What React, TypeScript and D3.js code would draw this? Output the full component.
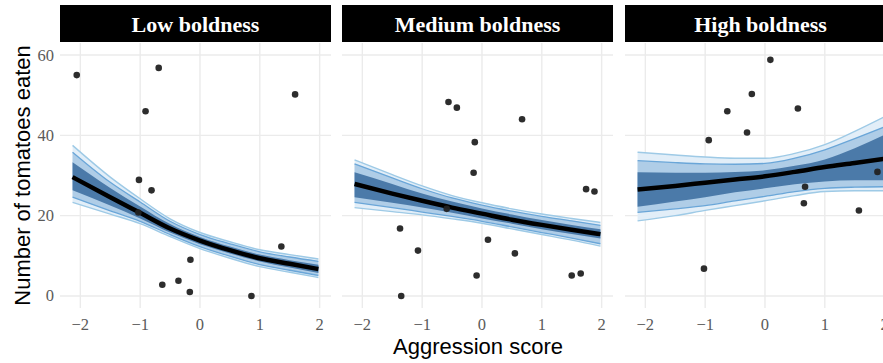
import React from "react";
import * as d3 from "d3";

const panels = ["Low boldness", "Medium boldness", "High boldness"];
const xTicks = [-2, -1, 0, 1, 2];
const yTicks = [0, 20, 40, 60];

// fitted-curve grid (x) shared by the panels
const curveX = [-2.13, -1.5, -1, -0.5, 0, 0.5, 1, 1.5, 1.98];

// Low boldness
const lowX = [-2.06, -0.69, -0.91, 1.59, -1.02, -0.81, -1.03, 1.36, -0.16, -0.63, -0.36, -0.17, 0.86];
const lowY = [55, 56.8, 46, 50.2, 28.9, 26.3, 20.8, 12.3, 9, 2.8, 3.8, 1, 0];
const lowMedian = [29.6, 24.6, 20.7, 16.8, 13.8, 11.4, 9.4, 8.0, 6.7];
const lowOuterHi = [37.5, 29.6, 24.2, 19.2, 15.8, 13.5, 11.5, 10.3, 9.2];
const lowOuterLo = [23.3, 20.4, 18.0, 14.8, 11.8, 9.4, 7.3, 5.9, 4.6];
const lowMidHi = [35.8, 28.3, 23.4, 18.6, 15.3, 13.0, 11.0, 9.7, 8.6];
const lowMidLo = [24.6, 21.2, 18.6, 15.3, 12.3, 9.9, 7.8, 6.4, 5.1];
const lowDarkHi = [33.3, 26.9, 22.3, 17.9, 14.7, 12.3, 10.3, 8.9, 7.8];
const lowDarkLo = [26.3, 22.5, 19.3, 15.8, 12.9, 10.6, 8.6, 7.1, 5.7];

// Medium boldness
const medX = [-0.56, -0.42, 0.67, -0.12, -0.14, 1.74, 1.88, -0.59, -1.37, -1.07, 0.1, 0.55, -0.09, 1.5, 1.65, -1.35];
const medY = [48.3, 46.9, 44, 38.3, 30.7, 26.6, 26, 21.7, 16.8, 11.3, 14, 10.6, 5.1, 5.1, 5.6, 0];
const medMedian = [27.9, 25.5, 23.7, 22.0, 20.5, 19.0, 17.7, 16.5, 15.4];
const medOuterHi = [33.9, 30.2, 27.4, 25.0, 23.2, 21.7, 20.4, 19.3, 18.3];
const medOuterLo = [22.0, 21.0, 20.2, 19.2, 18.1, 16.7, 15.3, 13.9, 12.4];
const medMidHi = [32.9, 29.4, 26.7, 24.4, 22.6, 21.1, 19.8, 18.7, 17.6];
const medMidLo = [23.3, 22.0, 20.9, 19.8, 18.6, 17.2, 15.8, 14.4, 13.0];
const medDarkHi = [30.8, 27.9, 25.5, 23.5, 21.8, 20.3, 18.9, 17.7, 16.6];
const medDarkLo = [24.6, 23.2, 22.0, 20.7, 19.3, 18.0, 16.6, 15.4, 14.3];

// High boldness
const highX = [0.09, -0.22, -0.63, 0.55, -0.3, -0.94, 1.88, 0.67, 0.65, 1.57, -1.02];
const highY = [58.8, 50.3, 46, 46.7, 40.7, 38.8, 30.9, 27.2, 23.1, 21.3, 6.8];
const highMedian = [26.5, 27.4, 28.2, 29.0, 29.8, 30.9, 32.1, 33.1, 34.1];
const highOuterHi = [35.8, 35.1, 34.6, 34.3, 34.3, 35.5, 37.7, 41.0, 44.5];
const highOuterLo = [18.7, 20.0, 21.3, 22.5, 23.7, 25.0, 26.0, 26.2, 26.2];
const highMidHi = [33.7, 33.2, 32.9, 32.8, 33.0, 34.3, 36.4, 39.2, 42.0];
const highMidLo = [20.8, 21.7, 22.5, 23.7, 24.8, 26.0, 26.8, 27.1, 27.2];
const highDarkHi = [30.8, 30.7, 30.7, 30.9, 31.3, 32.4, 34.0, 36.8, 40.0];
const highDarkLo = [22.2, 23.5, 24.6, 25.8, 26.8, 27.8, 28.5, 28.8, 28.8];

type PanelData = {
  px: number[]; py: number[]; median: number[];
  oHi: number[]; oLo: number[]; mHi: number[]; mLo: number[]; dHi: number[]; dLo: number[];
};

const data: PanelData[] = [
  { px: lowX, py: lowY, median: lowMedian, oHi: lowOuterHi, oLo: lowOuterLo, mHi: lowMidHi, mLo: lowMidLo, dHi: lowDarkHi, dLo: lowDarkLo },
  { px: medX, py: medY, median: medMedian, oHi: medOuterHi, oLo: medOuterLo, mHi: medMidHi, mLo: medMidLo, dHi: medDarkHi, dLo: medDarkLo },
  { px: highX, py: highY, median: highMedian, oHi: highOuterHi, oLo: highOuterLo, mHi: highMidHi, mLo: highMidLo, dHi: highDarkHi, dLo: highDarkLo },
];

const W = 883, H = 363;
const panelLefts = [60, 342, 625];
const panelW = 271;
const top = 43, bottom = 308;
const stripTop = 5;

const y = d3.scaleLinear().domain([-3, 63]).range([bottom, top]);
const serif = "Liberation Serif, DejaVu Serif, Noto Serif, serif";
const sans = "Liberation Sans, Arial, sans-serif";
const fmt = (v: number) => (v < 0 ? "\u2212" + Math.abs(v) : String(v));

export default function App() {
  return (
    <svg width={W} height={H} style={{ position: "absolute", left: 0, top: 0, background: "#fff" }}>
      {panels.map((name, i) => {
        const L = panelLefts[i];
        const x = d3.scaleLinear().domain([-2.34, 2.19]).range([L, L + panelW]);
        const d = data[i];
        const idx = curveX.map((_, k) => k);
        const area = (lo: number[], hi: number[]) =>
          d3.area<number>().x((k) => x(curveX[k])).y0((k) => y(lo[k])).y1((k) => y(hi[k])).curve(d3.curveMonotoneX)(idx) || "";
        const line = (v: number[]) =>
          d3.line<number>().x((k) => x(curveX[k])).y((k) => y(v[k])).curve(d3.curveMonotoneX)(idx) || "";
        return (
          <g key={name}>
            {yTicks.map((t) => (
              <line key={"gy" + t} x1={L} x2={L + panelW} y1={y(t)} y2={y(t)} stroke="#ebebeb" strokeWidth={1.4} />
            ))}
            {xTicks.map((t) => (
              <line key={"gx" + t} x1={x(t)} x2={x(t)} y1={top} y2={bottom} stroke="#ebebeb" strokeWidth={1.4} />
            ))}
            <rect x={L} y={stripTop} width={panelW} height={top - stripTop - 1} fill="#000" />
            <text x={L + panelW / 2} y={32} textAnchor="middle" fill="#fff" fontFamily={serif} fontWeight="bold" fontSize={22}>
              {name}
            </text>
            <path d={area(d.oLo, d.oHi)} fill="#e2eef8" />
            <path d={area(d.mLo, d.mHi)} fill="#afcde7" />
            <path d={area(d.dLo, d.dHi)} fill="#4b7aa9" />
            <path d={line(d.oHi)} fill="none" stroke="#9ecae6" strokeWidth={1.4} />
            <path d={line(d.oLo)} fill="none" stroke="#9ecae6" strokeWidth={1.4} />
            <path d={line(d.mHi)} fill="none" stroke="#6aa6d8" strokeWidth={1.3} />
            <path d={line(d.mLo)} fill="none" stroke="#6aa6d8" strokeWidth={1.3} />
            <path d={line(d.median)} fill="none" stroke="#000" strokeWidth={4.5} />
            {d.px.map((v, k) => (
              <circle key={k} cx={x(v)} cy={y(d.py[k])} r={3.3} fill="#222" opacity={0.95} />
            ))}
            {xTicks.map((t) => (
              <text key={"tx" + t} x={x(t)} y={330} textAnchor="middle" fill="#5a5a5a" fontFamily={serif} fontSize={16.5}>
                {fmt(t)}
              </text>
            ))}
          </g>
        );
      })}
      {yTicks.map((t) => (
        <text key={"ty" + t} x={54} y={y(t) + 5.5} textAnchor="end" fill="#5a5a5a" fontFamily={serif} fontSize={16.5}>
          {t}
        </text>
      ))}
      <text transform={`translate(30,${(top + bottom) / 2}) rotate(-90)`} textAnchor="middle" fill="#000" fontFamily={sans} fontSize={22}>
        Number of tomatoes eaten
      </text>
      <text x={478} y={354} textAnchor="middle" fill="#000" fontFamily={sans} fontSize={22}>
        Aggression score
      </text>
    </svg>
  );
}
